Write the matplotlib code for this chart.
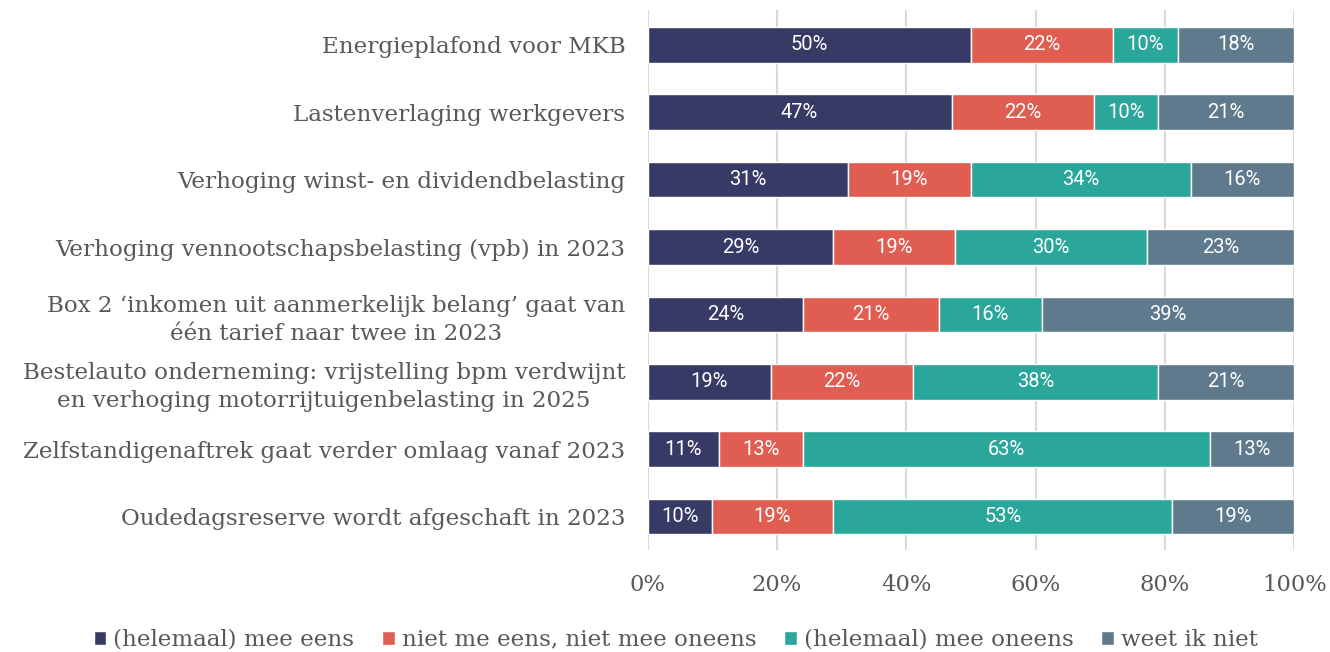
import numpy as np
import matplotlib
matplotlib.use("Agg")
import matplotlib.pyplot as plt
from matplotlib.ticker import FuncFormatter

# survey statements (top to bottom)
categories = [
    "Energieplafond voor MKB",
    "Lastenverlaging werkgevers",
    "Verhoging winst- en dividendbelasting",
    "Verhoging vennootschapsbelasting (vpb) in 2023",
    "Box 2 \u2018inkomen uit aanmerkelijk belang\u2019 gaat van\néén tarief naar twee in 2023",
    "Bestelauto onderneming: vrijstelling bpm verdwijnt\nen verhoging motorrijtuigenbelasting in 2025",
    "Zelfstandigenaftrek gaat verder omlaag vanaf 2023",
    "Oudedagsreserve wordt afgeschaft in 2023",
]
series_names = ["(helemaal) mee eens", "niet me eens, niet mee oneens",
                "(helemaal) mee oneens", "weet ik niet"]
mee_eens = [50, 47, 31, 29, 24, 19, 11, 10]
neutraal = [22, 22, 19, 19, 21, 22, 13, 19]
mee_oneens = [10, 10, 34, 30, 16, 38, 63, 53]
weet_niet = [18, 21, 16, 23, 39, 21, 13, 19]
colors = ["#383a66", "#e05d52", "#2ba69b", "#5e7a8c"]

vals = np.array([mee_eens, neutraal, mee_oneens, weet_niet], dtype=float)
shares = vals / vals.sum(axis=0)  # bars are stretched to 100%

grey = "#595959"
serif = "DejaVu Serif"
fs = 16.6

fig = plt.figure(figsize=(13.3, 6.52), dpi=100)
ax = fig.add_axes([0.487, 0.156, 0.486, 0.829])

y = np.arange(len(categories))
left = np.zeros(len(categories))
for i, name in enumerate(series_names):
    bars = ax.barh(y, shares[i], left=left, height=0.53, color=colors[i],
                   edgecolor="white", linewidth=1, label=name, zorder=3)
    for b, v in zip(bars, vals[i]):
        ax.text(b.get_x() + b.get_width() / 2, b.get_y() + b.get_height() / 2,
                f"{v:.0f}%", ha="center", va="center", color="white",
                fontsize=14.5, family="Roboto", zorder=4)
    left += shares[i]

ax.set_xlim(0, 1)
ax.set_ylim(len(categories) - 0.5, -0.52)
ax.set_xticks(np.arange(0, 1.01, 0.2))
ax.xaxis.set_major_formatter(FuncFormatter(lambda x, _: f"{x * 100:.0f}%"))
ax.set_yticks(y)
ax.set_yticklabels(categories, fontsize=fs, family=serif, color=grey,
                   ha="right", multialignment="center", linespacing=1.35)
for lab in ax.get_xticklabels():
    lab.set_fontsize(16.3)
    lab.set_family(serif)
    lab.set_color(grey)
ax.tick_params(axis="both", length=0)
ax.tick_params(axis="x", pad=17)
ax.tick_params(axis="y", pad=16)
ax.grid(axis="x", color="#d9d9d9", linewidth=1.5, zorder=0)
for s in ax.spines.values():
    s.set_visible(False)

fig.legend(loc="lower center", bbox_to_anchor=(0.508, -0.03), ncol=4, frameon=False,
           prop={"family": serif, "size": fs}, labelcolor=grey,
           handlelength=0.55, handleheight=0.55, handletextpad=0.3, columnspacing=1.2)

fig.savefig("out.png", dpi=100)
